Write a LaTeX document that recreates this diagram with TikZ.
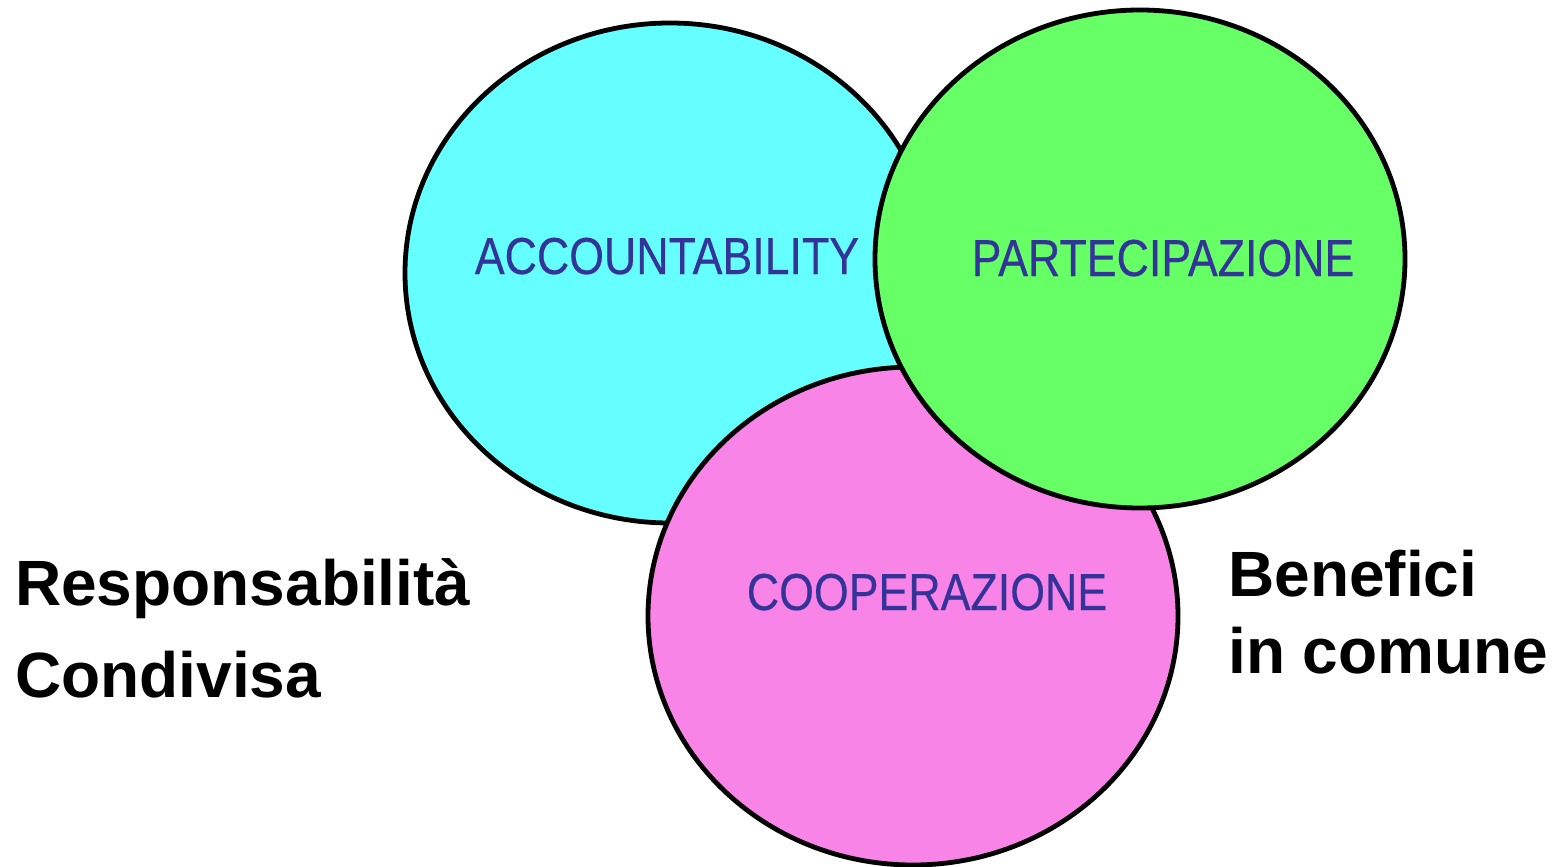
\documentclass[tikz,border=0pt]{standalone}
\usepackage{fontspec}
\setmainfont{Liberation Sans}
\newfontfamily\narrowfont[FakeStretch=0.86,FakeBold=0.3]{Liberation Sans}
\usetikzlibrary{shapes.geometric}
\definecolor{cyanfill}{RGB}{102,255,255}
\definecolor{greenfill}{RGB}{102,255,102}
\definecolor{pinkfill}{RGB}{249,132,232}
\definecolor{labelblue}{RGB}{51,51,153}
\tikzset{
  circlebox/.style={ellipse, draw=black, line width=4.8pt, inner sep=0pt,
    minimum width=530pt, minimum height=500pt},
  innerlabel/.style={anchor=base, inner sep=0pt, text=labelblue,
    font=\narrowfont\fontsize{52}{60}\selectfont},
  sidelabel/.style={anchor=base west, inner sep=0pt, text=black,
    font=\bfseries\fontsize{64}{70}\selectfont}
}
\begin{document}
\begin{tikzpicture}[x=1pt,y=-1pt]
  \useasboundingbox (0,0) rectangle (1553,867);
  % three overlapping ellipses
  \node[circlebox, fill=cyanfill] (acc) at (670,273) {};
  \node[circlebox, fill=pinkfill, minimum height=498pt] (coop) at (913,616) {};
  \node[circlebox, fill=greenfill, minimum height=498pt] (part) at (1140,259) {};
  % labels inside the ellipses
  \node[innerlabel] (accT) at (667,274) {ACCOUNTABILITY};
  \node[innerlabel] (partT) at (1163,276) {PARTECIPAZIONE};
  \node[innerlabel] (coopT) at (927,610) {COOPERAZIONE};
  % side captions
  \node[sidelabel] (resp1) at (15,605) {Responsabilità};
  \node[sidelabel] (resp2) at (15,697) {Condivisa};
  \node[sidelabel] (ben1) at (1228,596) {Benefici};
  \node[sidelabel] (ben2) at (1228,673) {in comune};
\end{tikzpicture}
\end{document}
